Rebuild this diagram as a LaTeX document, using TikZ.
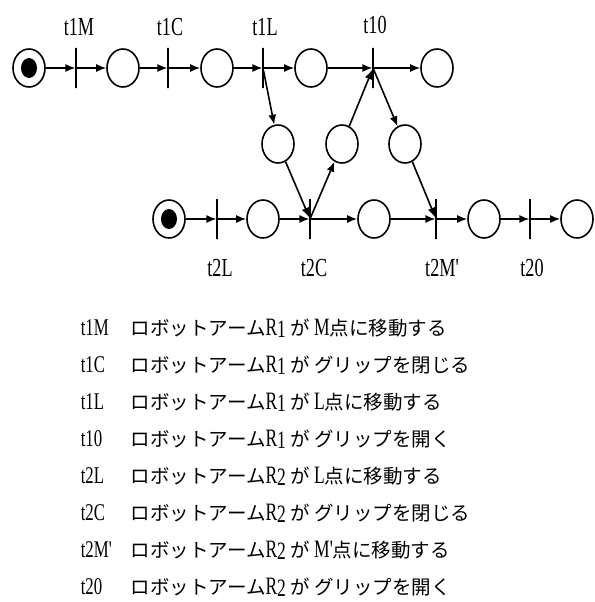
\documentclass[tikz,border=0pt]{standalone}
\usepackage{fontspec}
\setmainfont{Liberation Serif}
\newfontfamily\jp{Noto Sans CJK JP}
\newfontfamily\tn[FakeStretch=0.7]{Liberation Serif}
\usetikzlibrary{shapes.geometric, arrows.meta, positioning}

% arm name with a lowered index, then the particle
\newcommand{\arm}[1]{ロボットアーム{\pt{R\lower2pt\hbox{#1}}}\ が\ }
\newcommand{\pt}[1]{{\tn\fontsize{25}{26}\selectfont #1}}

\begin{document}
\begin{tikzpicture}[x=1pt, y=-1pt, line width=1.6pt,
    place/.style={draw, ellipse, minimum width=32pt, minimum height=38pt, inner sep=0pt},
    marked/.style={place, path picture={\fill (path picture bounding box.center) ellipse (8pt and 10pt);}},
    trans/.style={draw, rectangle, minimum width=0pt, minimum height=40pt, inner sep=0pt, line width=1.1pt},
    arc/.style={-{Latex[length=10pt,width=8pt]}},
    tlab/.style={font=\tn\fontsize{26}{28}\selectfont},
    desc/.style={font=\jp\fontsize{19.5}{22}\selectfont, anchor=base west, inner sep=0pt}]
    \useasboundingbox (0,0) rectangle (594,602);

    % robot arm 1
    \node[marked] (m1) at (29,68) {};
    \node[trans] (t1M) at (76,68) {};
    \node[place] (p1) at (123,68) {};
    \node[trans] (t1C) at (168,68) {};
    \node[place] (p2) at (217,68) {};
    \node[trans] (t1L) at (263,68) {};
    \node[place] (p3) at (311,68) {};
    \node[trans] (t1O) at (373,68) {};
    \node[place] (p4) at (437,68) {};

    % shared places
    \node[place] (q1) at (278,144) {};
    \node[place] (q2) at (342,144) {};
    \node[place] (q3) at (405,144) {};

    % robot arm 2
    \node[marked] (m2) at (169,219) {};
    \node[trans] (t2L) at (217,219) {};
    \node[place] (r1) at (263,219) {};
    \node[trans] (t2C) at (310,219) {};
    \node[place] (r2) at (374,219) {};
    \node[trans] (t2M) at (436,219) {};
    \node[place] (r3) at (484,219) {};
    \node[trans] (t2O) at (530,219) {};
    \node[place] (r4) at (577,219) {};

    \draw[arc] (m1) -- (t1M);
    \draw[arc] (t1M) -- (p1);
    \draw[arc] (p1) -- (t1C);
    \draw[arc] (t1C) -- (p2);
    \draw[arc] (p2) -- (t1L);
    \draw[arc] (t1L) -- (p3);
    \draw[arc] (p3) -- (t1O);
    \draw[arc] (t1O) -- (p4);

    \draw[arc] (m2) -- (t2L);
    \draw[arc] (t2L) -- (r1);
    \draw[arc] (r1) -- (t2C);
    \draw[arc] (t2C) -- (r2);
    \draw[arc] (r2) -- (t2M);
    \draw[arc] (t2M) -- (r3);
    \draw[arc] (r3) -- (t2O);
    \draw[arc] (t2O) -- (r4);

    \draw[arc] (t1L) -- (q1);
    \draw[arc] (q1) -- (t2C);
    \draw[arc] (t2C) -- (q2);
    \draw[arc] (q2) -- (t1O);
    \draw[arc] (t1O) -- (q3);
    \draw[arc] (q3) -- (t2M);

    % transition names
    \node[tlab] (l1M) at (79,27) {t1M};
    \node[tlab] (l1C) at (170,27) {t1C};
    \node[tlab] (l1L) at (265,27) {t1L};
    \node[tlab] (l1O) at (375,25) {t10};
    \node[tlab] (l2L) at (220,268) {t2L};
    \node[tlab] (l2C) at (314,268) {t2C};
    \node[tlab] (l2M) at (442,268) {t2M'};
    \node[tlab] (l2O) at (532,268) {t20};

    % legend
    \foreach \lab/\txt [count=\i] in {
        t1M/\arm{1}\pt{M}点に移動する,
        t1C/\arm{1}グリップを閉じる,
        t1L/\arm{1}\pt{L}点に移動する,
        t10/\arm{1}グリップを開く,
        t2L/\arm{2}\pt{L}点に移動する,
        t2C/\arm{2}グリップを閉じる,
        t2M'/\arm{2}\pt{M'}点に移動する,
        t20/\arm{2}グリップを開く} {
      \node[desc, font=\tn\fontsize{24}{26}\selectfont] (key\i) at (80,{335+37*(\i-1)}) {\lab};
      \node[desc] (txt\i) at (130,{335+37*(\i-1)}) {\txt};
    }
\end{tikzpicture}
\end{document}
